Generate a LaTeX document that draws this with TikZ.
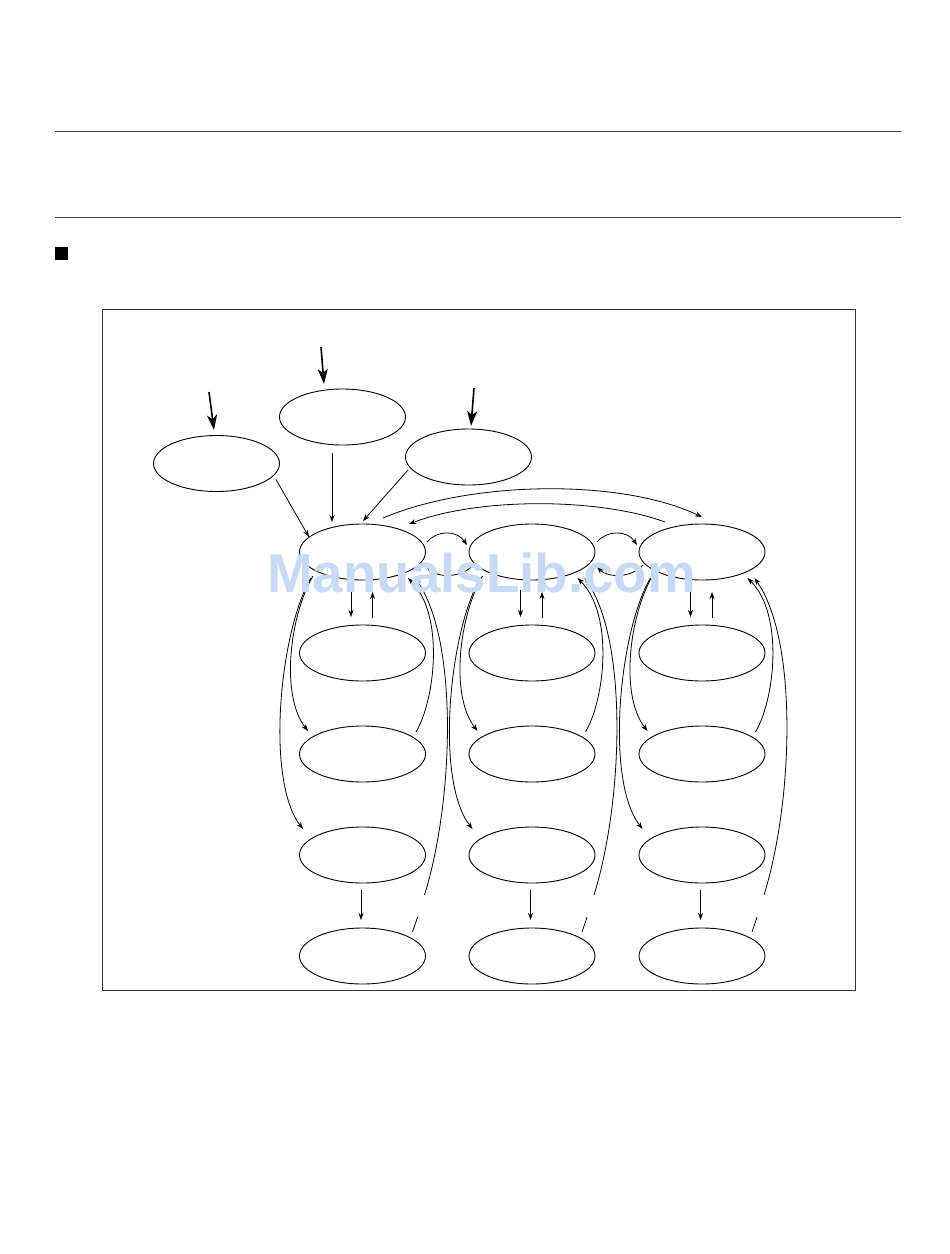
\documentclass[tikz,border=0pt]{standalone}
\usepackage{fontspec}
\usetikzlibrary{shapes.geometric,arrows.meta,calc}
\newfontfamily\wmfont{Liberation Sans}
\definecolor{wmblue}{RGB}{198,218,244}
\begin{document}
\begin{tikzpicture}[x=1pt,y=-1pt,
  ell/.style={draw, ellipse, minimum width=126pt, minimum height=56pt, inner sep=0pt, line width=0.9pt},
  arr/.style={-{Stealth[length=7pt,width=5pt]}, line width=0.8pt},
  bigarr/.style={-{Stealth[length=15pt,width=10pt,inset=4pt]}, line width=1.6pt},
  seg/.style={line width=0.8pt},
  rulestyle/.style={line width=0.8pt, black!75}]
\useasboundingbox (0,0) rectangle (950,1254);
\fill[white] (0,0) rectangle (950,1254);
\draw[rulestyle] (55,131) -- (901,131);
\draw[rulestyle] (55,217) -- (901,217);
\fill (55,247) rectangle (68,260);
\draw[line width=0.7pt, black!80] (102,309) rectangle (855,990);

% top ellipses
\node[ell] (EL) at (216.5,463.5) {};
\node[ell] (EM) at (342.5,417) {};
\node[ell] (ER) at (468.5,457) {};

% grid of ellipses
\foreach \c/\x in {1/362.5,2/532,3/702}{
  \node[ell] (A\c) at (\x,552) {};
  \node[ell] (B\c) at (\x,653) {};
  \node[ell] (C\c) at (\x,754) {};
  \node[ell] (D\c) at (\x,855) {};
  \node[ell] (F\c) at (\x,956) {};
}

% incoming thick arrows
\coordinate (inL) at (209,392);
\coordinate (inM) at (321,347);
\coordinate (inR) at (474,388);
\draw[bigarr] (inL) -- ($(EL)+(-2.5,-33.5)$);
\draw[bigarr] (inM) -- ($(EM)+(-18.5,-33)$);
\draw[bigarr] (inR) -- ($(ER)+(2.5,-31)$);

% top ellipses to A1
\draw[arr] ($(EL)+(59.5,16)$) -- ($(A1)+(-53.5,-15)$);
\draw[arr] ($(EM)+(-10.5,36)$) -- ($(A1)+(-30.5,-30)$);
\draw[arr] ($(ER)+(-60.5,13)$) -- ($(A1)+(0.5,-31)$);

% long arcs A1 <-> A3
\draw[arr] ($(A1)+(20.5,-34)$) .. controls ($(A1)+(107.5,-71)$) and ($(A3)+(-82,-74)$) .. ($(A3)+(0,-35)$);
\draw[arr] ($(A3)+(-37,-30)$) .. controls ($(A3)+(-102,-54)$) and ($(A1)+(117.5,-55)$) .. ($(A1)+(46.5,-28)$);

% small arcs between main ellipses
\draw[arr] ($(A1)+(64.5,-10)$) .. controls ($(A1)+(74.5,-22)$) and ($(A2)+(-75,-22)$) .. ($(A2)+(-65,-7)$);
\draw[arr] ($(A2)+(65,-10)$) .. controls ($(A2)+(75,-22)$) and ($(A3)+(-75,-22)$) .. ($(A3)+(-65,-7)$);
\draw[arr] ($(A2)+(-59,13)$) .. controls ($(A2)+(-70,26)$) and ($(A1)+(75.5,26)$) .. ($(A1)+(64.5,15)$);
\draw[arr] ($(A3)+(-59,13)$) .. controls ($(A3)+(-70,26)$) and ($(A2)+(76,26)$) .. ($(A2)+(65,15)$);

% per-column connectors
\foreach \c in {1,2,3}{
  \draw[arr] ($(A\c)+(-11.5,38)$) -- ($(B\c)+(-11.5,-36)$);
  \draw[arr] ($(B\c)+(10,-35)$) -- ($(A\c)+(10,40)$);
  \draw[arr] ($(D\c)+(-1.5,35)$) -- ($(F\c)+(-1.5,-36)$);
  \draw[arr] ($(A\c)+(-49.5,24)$) .. controls ($(A\c)+(-72.5,63)$) and ($(C\c)+(-82.5,-59)$) .. ($(C\c)+(-54.5,-23)$);
  \draw[arr] ($(A\c)+(-51.5,26)$) .. controls ($(A\c)+(-82.5,78)$) and ($(D\c)+(-97.5,-75)$) .. ($(D\c)+(-59.5,-26)$);
  \draw[arr] ($(C\c)+(53.5,-22)$) .. controls ($(C\c)+(72.5,-54)$) and ($(A\c)+(82.5,63)$) .. ($(A\c)+(45.5,26)$);
  \draw[arr] ($(F\c)+(62,-61)$) .. controls ($(F\c)+(91.5,-156)$) and ($(A\c)+(96,88)$) .. ($(A\c)+(52.5,26)$);
  \draw[seg] ($(F\c)+(50,-24)$) -- ($(F\c)+(55,-39)$);
}

% watermark
\node[anchor=base west, text=wmblue, font=\wmfont\bfseries\fontsize{54.7}{55}\selectfont, inner sep=0pt] (wm) at (267,592) {ManualsLib.com};
\end{tikzpicture}
\end{document}
